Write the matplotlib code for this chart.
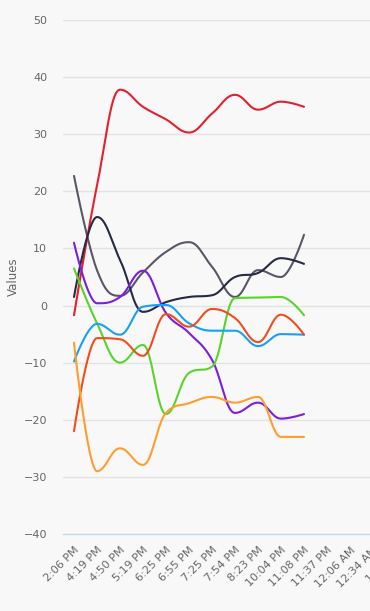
import numpy as np
import matplotlib.pyplot as plt

# ---- data ----
categories = ["2:06 PM", "4:19 PM", "4:50 PM", "5:19 PM", "6:25 PM", "6:55 PM",
              "7:25 PM", "7:54 PM", "8:23 PM", "10:04 PM", "11:08 PM",
              "11:37 PM", "12:06 AM", "12:34 AM", "1:03 AM"]

red = [-1.7, 21.0, 37.8, 34.8, 32.6, 30.3, 33.6, 36.9, 34.3, 35.7, 34.8]
navy = [1.5, 15.5, 8.0, -1.1, 0.6, 1.5, 1.8, 5.0, 5.7, 8.3, 7.3]
slate = [22.7, 6.2, 1.7, 5.8, 9.4, 11.1, 6.8, 1.5, 6.2, 5.0, 12.4]
violet = [11.0, 0.4, 1.5, 6.1, -1.3, -4.8, -9.5, -18.8, -17.0, -19.8, -19.0]
green = [6.5, -3.1, -10.0, -6.9, -19.0, -11.8, -10.7, 1.3, 1.4, 1.5, -1.7]
blue = [-9.8, -3.2, -5.1, -0.2, 0.1, -3.1, -4.4, -4.4, -7.1, -5.0, -5.1]
vermilion = [-22.0, -5.7, -5.9, -8.8, -1.5, -3.7, -0.6, -2.2, -6.4, -1.6, -5.1]
orange = [-6.5, -29.0, -25.0, -27.9, -18.8, -17.1, -16.0, -17.0, -16.0, -23.0, -23.0]

series = [
    (slate, "#5b5667"),
    (red, "#e3202f"),
    (navy, "#262a43"),
    (violet, "#7a1ee0"),
    (green, "#58d42a"),
    (blue, "#17a0f5"),
    (vermilion, "#f04d1d"),
    (orange, "#ff9d2e"),
]

W, H = 370, 611
PX_X = 23.0        # pixels per category
PX_Y = 514 / 90.0  # pixels per value unit


def spline(xs, ys, smoothing=1.5, n=30):
    """Highcharts-style spline, computed in pixel space (y down)."""
    px = np.asarray(xs, float) * PX_X
    py = -np.asarray(ys, float) * PX_Y
    m = len(px)
    lc = [(px[i], py[i]) for i in range(m)]
    rc = [(px[i], py[i]) for i in range(m)]
    d = smoothing + 1
    for i in range(1, m - 1):
        x, y = px[i], py[i]
        lx, ly = px[i - 1], py[i - 1]
        nx, ny = px[i + 1], py[i + 1]
        lcx = (smoothing * x + lx) / d
        lcy = (smoothing * y + ly) / d
        rcx = (smoothing * x + nx) / d
        rcy = (smoothing * y + ny) / d
        corr = (rcy - lcy) * (rcx - x) / (rcx - lcx) + y - rcy
        lcy += corr
        rcy += corr
        if lcy > ly and lcy > y:
            lcy = max(ly, y)
            rcy = 2 * y - lcy
        elif lcy < ly and lcy < y:
            lcy = min(ly, y)
            rcy = 2 * y - lcy
        if rcy > ny and rcy > y:
            rcy = max(ny, y)
            lcy = 2 * y - rcy
        elif rcy < ny and rcy < y:
            rcy = min(ny, y)
            lcy = 2 * y - rcy
        lc[i] = (lcx, lcy)
        rc[i] = (rcx, rcy)
    t = np.linspace(0, 1, n)[:, None]
    out = []
    for i in range(m - 1):
        p0 = np.array([px[i], py[i]])
        p1 = np.array(rc[i])
        p2 = np.array(lc[i + 1])
        p3 = np.array([px[i + 1], py[i + 1]])
        seg = ((1 - t) ** 3) * p0 + 3 * ((1 - t) ** 2) * t * p1 \
            + 3 * (1 - t) * t ** 2 * p2 + t ** 3 * p3
        out.append(seg if i == 0 else seg[1:])
    out = np.vstack(out)
    return out[:, 0] / PX_X, -out[:, 1] / PX_Y


plt.rcParams['font.family'] = ['DejaVu Sans']
fig = plt.figure(figsize=(W / 100, H / 100), dpi=100, facecolor="#f8f8f8")
left = 62.5 / W
bottom = (H - 534) / H
ax = fig.add_axes([left, bottom, 15 * PX_X / W, (534 - 20) / H])
ax.set_facecolor("#f8f8f8")

for vals, col in series:
    xs = np.arange(len(vals))
    sx, sy = spline(xs, vals)
    ax.plot(sx, sy, color=col, lw=1.5, solid_capstyle="round", clip_on=False)

ax.set_xlim(-0.5, len(categories) - 0.5)
ax.set_ylim(-40, 50)
ax.set_yticks(np.arange(-40, 51, 10))
ax.yaxis.grid(True, color="#e3e3e3", lw=1)
ax.set_axisbelow(True)
for s in ["left", "right", "top"]:
    ax.spines[s].set_visible(False)
ax.spines["bottom"].set_color("#ccd6eb")
ax.spines["bottom"].set_linewidth(1)

ax.set_xticks(np.arange(len(categories)))
ax.set_xticklabels(categories, rotation=45, ha="right", va="top",
                   rotation_mode="anchor")
ax.tick_params(axis="x", length=0, pad=8, labelsize=8, labelcolor="#666666")
ax.tick_params(axis="y", length=0, pad=11, labelsize=8, labelcolor="#666666")
ax.set_ylabel("Values", fontsize=8.5, color="#666666", labelpad=3)

fig.savefig("out.png", dpi=100, facecolor=fig.get_facecolor())
